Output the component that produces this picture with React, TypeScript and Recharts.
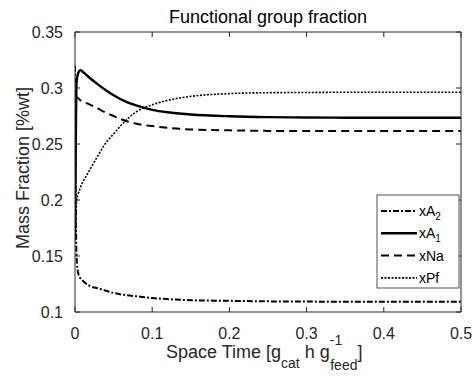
import React from 'react';
import { LineChart, Line, XAxis, YAxis } from 'recharts';

const spaceTime = [0, 0.001, 0.002, 0.004, 0.007, 0.01, 0.015, 0.02, 0.03, 0.04, 0.05, 0.065, 0.08, 0.1, 0.12, 0.15, 0.2, 0.25, 0.3, 0.35, 0.4, 0.45, 0.5];
const xA2 = [0.32, 0.2, 0.15, 0.135, 0.13, 0.128, 0.125, 0.123, 0.121, 0.119, 0.117, 0.1152, 0.114, 0.1125, 0.1115, 0.1105, 0.11, 0.1095, 0.1093, 0.1092, 0.1092, 0.1092, 0.1092];
const xA1 = [0.164, 0.25, 0.305, 0.313, 0.316, 0.3145, 0.3115, 0.3085, 0.303, 0.298, 0.2935, 0.288, 0.2842, 0.2805, 0.2783, 0.2764, 0.2748, 0.274, 0.2737, 0.2735, 0.2735, 0.2735, 0.2735];
const xNa = [0.293, 0.2925, 0.292, 0.291, 0.289, 0.288, 0.2865, 0.285, 0.2815, 0.278, 0.275, 0.2708, 0.268, 0.266, 0.2645, 0.263, 0.2622, 0.2617, 0.2615, 0.2615, 0.2615, 0.2615, 0.2615];
const xPf = [0.165, 0.185, 0.198, 0.205, 0.211, 0.216, 0.222, 0.228, 0.24, 0.251, 0.259, 0.2705, 0.279, 0.285, 0.289, 0.2925, 0.295, 0.2958, 0.296, 0.2962, 0.2962, 0.2962, 0.2962];

const xTicks = [0, 0.1, 0.2, 0.3, 0.4, 0.5];
const yTicks = [0.1, 0.15, 0.2, 0.25, 0.3, 0.35];

const seriesKeys = ['xA2', 'xA1', 'xNa', 'xPf'];
const seriesBase = ['xA', 'xA', 'xNa', 'xPf'];
const seriesSub = ['2', '1', '', ''];
const seriesDash = ['6 2 2 2', undefined, '8 5', '2 1.5'];
const seriesWidth = [2, 2.4, 2, 1.6];

const data = spaceTime.map((t, i) => ({ t, xA2: xA2[i], xA1: xA1[i], xNa: xNa[i], xPf: xPf[i] }));

const FONT = '"Liberation Sans", Arial, Helvetica, sans-serif';
const AX = '#262626';
const TL = 5;

const BottomTick = (p: any) => (
  <g>
    <line x1={p.x} x2={p.x} y1={p.y - 16} y2={p.y - 16 - TL} stroke={AX} strokeWidth={1} />
    <text x={p.x} y={p.y} dy="0.71em" textAnchor="middle" fontSize={16} fill={AX} fontFamily={FONT}>{String(p.payload.value)}</text>
  </g>
);
const TopTick = (p: any) => (
  <line x1={p.x} x2={p.x} y1={p.y} y2={p.y + TL} stroke={AX} strokeWidth={1} />
);
const LeftTick = (p: any) => (
  <g>
    <line x1={p.x + 12} x2={p.x + 12 + TL} y1={p.y} y2={p.y} stroke={AX} strokeWidth={1} />
    <text x={p.x} y={p.y} textAnchor="end" dominantBaseline="central" fontSize={16} fill={AX} fontFamily={FONT}>{String(p.payload.value)}</text>
  </g>
);
const RightTick = (p: any) => (
  <line x1={p.x} x2={p.x - TL} y1={p.y} y2={p.y} stroke={AX} strokeWidth={1} />
);

export default function App() {
  return (
    <div style={{ position: 'absolute', left: 0, top: 0, width: 472, height: 376, background: '#fff', fontFamily: FONT }}>
      <LineChart width={472} height={376} data={data} margin={{ top: 31, right: 10, left: 0, bottom: 34 }}>
        <XAxis xAxisId="b" dataKey="t" type="number" domain={[0, 0.5]} ticks={xTicks} interval={0}
          allowDataOverflow orientation="bottom" height={30} tickSize={0} tickMargin={16} tickLine={false}
          stroke={AX} tick={BottomTick} />
        <XAxis xAxisId="t" dataKey="t" type="number" domain={[0, 0.5]} ticks={xTicks} interval={0}
          allowDataOverflow orientation="top" height={1} tickSize={0} tickMargin={0} tickLine={false}
          stroke={AX} tick={TopTick} />
        <YAxis yAxisId="l" type="number" domain={[0.1, 0.35]} ticks={yTicks} interval={0}
          allowDataOverflow width={75} tickSize={0} tickMargin={12} tickLine={false}
          stroke={AX} tick={LeftTick} />
        <YAxis yAxisId="r" type="number" domain={[0.1, 0.35]} ticks={yTicks} interval={0}
          allowDataOverflow orientation="right" width={1} tickSize={0} tickMargin={0} tickLine={false}
          stroke={AX} tick={RightTick} />
        {seriesKeys.map((k, i) => (
          <Line key={k} xAxisId="b" yAxisId="l" type="monotone" dataKey={k} stroke="#000"
            strokeWidth={seriesWidth[i]} strokeDasharray={seriesDash[i]} dot={false}
            isAnimationActive={false} />
        ))}
      </LineChart>
      <svg width={472} height={376} style={{ position: 'absolute', left: 0, top: 0, pointerEvents: 'none' }}>
        <text x={268} y={23} textAnchor="middle" fontSize={18} fill="#000" fontFamily={FONT}>Functional group fraction</text>
        <text transform="translate(23,168) rotate(-90)" textAnchor="middle" dominantBaseline="central" fontSize={18} fill={AX} fontFamily={FONT}>Mass Fraction [%wt]</text>
        <text x={166} y={358} fontSize={18} fill={AX} fontFamily={FONT}>
          Space Time [g<tspan fontSize={14} dy={10}>cat</tspan>
          <tspan dy={-10}> h g</tspan>
          <tspan fontSize={14} dy={-13}>-1</tspan>
          <tspan fontSize={14} dx={-12} dy={25}>feed</tspan>
          <tspan dy={-12}>]</tspan>
        </text>
        <rect x={377} y={195} width={82} height={93} fill="#fff" stroke={AX} strokeWidth={0.8} />
        {seriesKeys.map((k, i) => {
          const cy = 211 + i * 22.3;
          return (
            <g key={k}>
              <line x1={381} x2={417} y1={cy} y2={cy} stroke="#000" strokeWidth={seriesWidth[i]} strokeDasharray={seriesDash[i]} />
              <text x={419} y={cy} dominantBaseline="central" fontSize={14} fill="#000" fontFamily={FONT}>
                {seriesBase[i]}
                {seriesSub[i] ? <tspan fontSize={10} dy={5}>{seriesSub[i]}</tspan> : null}
              </text>
            </g>
          );
        })}
      </svg>
    </div>
  );
}
